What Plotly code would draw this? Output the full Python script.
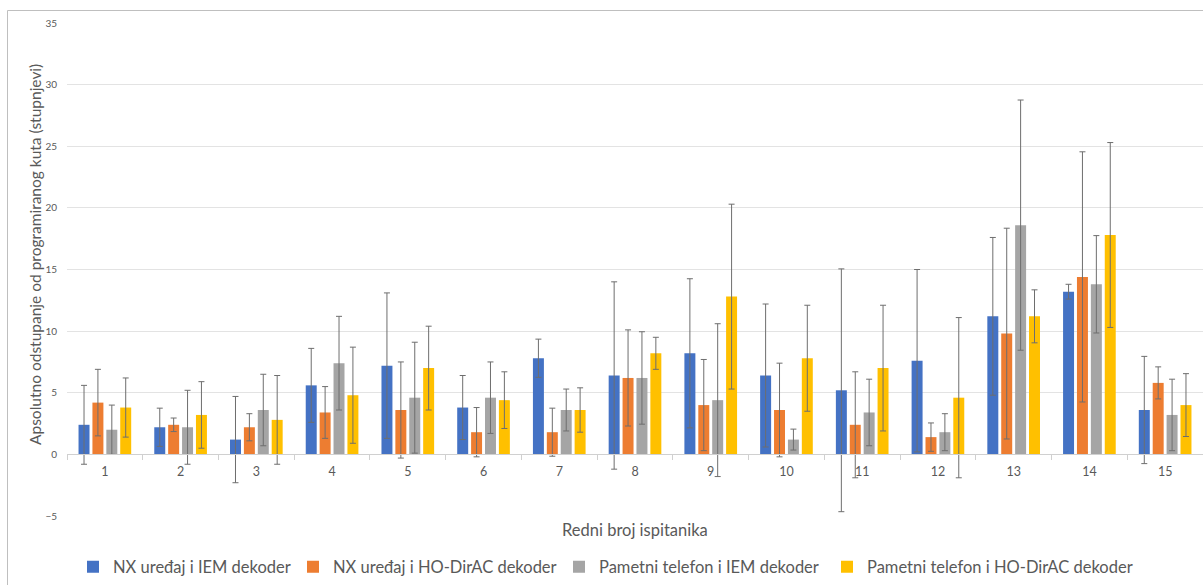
import plotly.graph_objects as go

categories = [str(i) for i in range(1, 16)]

series_names = [
    "NX uređaj i IEM dekoder",
    "NX uređaj i HO-DirAC dekoder",
    "Pametni telefon i IEM dekoder",
    "Pametni telefon i HO-DirAC dekoder",
]

nx_iem = [2.4, 2.2, 1.2, 5.6, 7.2, 3.8, 7.8, 6.4, 8.2, 6.4, 5.2, 7.6, 11.2, 13.2, 3.6]
nx_iem_err = [3.2, 1.55, 3.5, 3.0, 5.9, 2.6, 1.55, 7.6, 6.05, 5.8, 9.85, 7.4, 6.4, 0.6, 4.35]

nx_dirac = [4.2, 2.4, 2.2, 3.4, 3.6, 1.8, 1.8, 6.2, 4.0, 3.6, 2.4, 1.4, 9.8, 14.4, 5.8]
nx_dirac_err = [2.7, 0.55, 1.1, 2.1, 3.9, 2.0, 1.95, 3.9, 3.7, 3.8, 4.3, 1.15, 8.55, 10.15, 1.3]

phone_iem = [2.0, 2.2, 3.6, 7.4, 4.6, 4.6, 3.6, 6.2, 4.4, 1.2, 3.4, 1.8, 18.6, 13.8, 3.2]
phone_iem_err = [2.0, 3.0, 2.9, 3.8, 4.5, 2.9, 1.7, 3.75, 6.2, 0.85, 2.7, 1.5, 10.15, 3.95, 2.9]

phone_dirac = [3.8, 3.2, 2.8, 4.8, 7.0, 4.4, 3.6, 8.2, 12.8, 7.8, 7.0, 4.6, 11.2, 17.8, 4.0]
phone_dirac_err = [2.4, 2.7, 3.6, 3.9, 3.4, 2.3, 1.8, 1.3, 7.5, 4.3, 5.1, 6.5, 2.15, 7.5, 2.55]

colors = ["#4472C4", "#ED7D31", "#A5A5A5", "#FFC000"]
values = [nx_iem, nx_dirac, phone_iem, phone_dirac]
errors = [nx_iem_err, nx_dirac_err, phone_iem_err, phone_dirac_err]

FONT = "Lato"
TXT = "#595959"

W, H = 1203, 585
L, R, T, B = 67, 0, 23, 69
plot_h = H - T - B
plot_w = W - L - R


def py(px):
    return (H - B - px) / plot_h


def pxx(px):
    return (px - L) / plot_w


# where each legend entry's text starts (screen px)
legend_text_x = [113, 333, 599, 867]
legend_keys = ["legend", "legend2", "legend3", "legend4"]

fig = go.Figure()
for name, vals, errs, col, lk in zip(series_names, values, errors, colors, legend_keys):
    fig.add_trace(go.Bar(
        x=categories, y=vals, name=name, legend=lk,
        marker=dict(color=col, line=dict(width=0)),
        error_y=dict(type="data", array=errs, visible=True,
                     color="#6e6e6e", thickness=1, width=3),
    ))

legend_layout = {}
for lk, tx in zip(legend_keys, legend_text_x):
    legend_layout[lk] = dict(
        orientation="h", x=pxx(tx - 40), xanchor="left",
        y=py(567), yanchor="middle",
        font=dict(size=16.5, color=TXT, family=FONT),
        itemwidth=30, bgcolor="rgba(0,0,0,0)", borderwidth=0,
    )

fig.update_layout(
    width=W, height=H,
    margin=dict(l=L, r=R, t=T, b=B, autoexpand=False),
    paper_bgcolor="white", plot_bgcolor="white",
    barmode="group", bargap=0.266, bargroupgap=0.21,
    font=dict(family=FONT, color=TXT),
    showlegend=True,
    xaxis=dict(
        type="category", anchor="free", position=5 / 40,
        showline=True, linecolor="#d0d0d0", linewidth=1,
        ticks="outside", tickson="boundaries", ticklen=5, tickcolor="#d0d0d0",
        ticklabelstandoff=6,
        showgrid=False,
        tickfont=dict(size=12.5, color=TXT, family=FONT),
    ),
    yaxis=dict(
        range=[-5, 35], dtick=5, tick0=0,
        showgrid=True, gridcolor="#e3e3e3", gridwidth=1,
        zeroline=False, showline=False,
        ticks="outside", ticklen=7, tickcolor="rgba(0,0,0,0)",
        tickfont=dict(size=10, color=TXT, family=FONT),
    ),
    annotations=[
        dict(text="Apsolutno odstupanje od programiranog kuta (stupnjevi)",
             xref="paper", yref="paper", x=pxx(35), y=py(255),
             xanchor="center", yanchor="middle", textangle=-90,
             showarrow=False, font=dict(size=15.5, color=TXT, family=FONT)),
        dict(text="Redni broj ispitanika",
             xref="paper", yref="paper", x=pxx(635), y=py(530),
             xanchor="center", yanchor="middle",
             showarrow=False, font=dict(size=16.5, color=TXT, family=FONT)),
    ],
    shapes=[
        dict(type="rect", xref="paper", yref="paper",
             x0=pxx(7.5), x1=pxx(1215), y0=py(600), y1=py(10.5),
             line=dict(color="#bfbfbf", width=1), fillcolor="rgba(0,0,0,0)",
             layer="below"),
    ],
)
fig.update_layout(**legend_layout)

fig.write_html("out.html", config={"displayModeBar": False},
               post_script="document.body.style.margin='0';")
